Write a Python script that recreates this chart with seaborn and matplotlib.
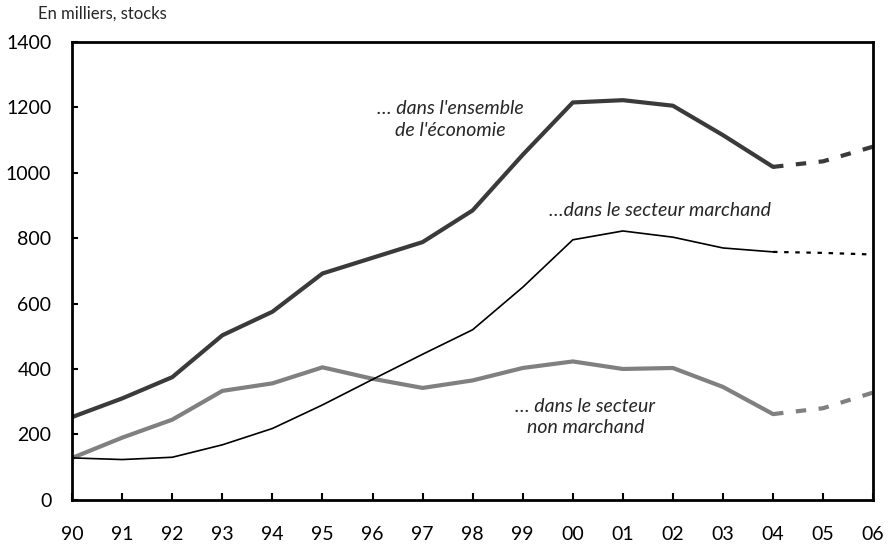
import numpy as np
import pandas as pd
import matplotlib
matplotlib.use('Agg')
import matplotlib.pyplot as plt
import seaborn as sns

# Years (observed 90-04, projection 04-06)
years = ['90', '91', '92', '93', '94', '95', '96', '97', '98', '99',
         '00', '01', '02', '03', '04', '05', '06']
obs_years = years[:15]
proj_years = years[14:]

# ... dans l'ensemble de l'economie
ensemble = [253, 310, 375, 503, 575, 692, 740, 788, 885, 1055,
            1215, 1222, 1205, 1115, 1018]
ensemble_proj = [1018, 1035, 1080]

# ... dans le secteur marchand
marchand = [128, 123, 130, 168, 218, 290, 368, 445, 520, 650,
            795, 822, 803, 770, 758]
marchand_proj = [758, 755, 750]

# ... dans le secteur non marchand
non_marchand = [128, 190, 245, 333, 356, 405, 370, 342, 365, 403,
                423, 400, 403, 345, 262]
non_marchand_proj = [262, 280, 328]

sns.set_style('white')
plt.rcParams['font.family'] = ['Lato', 'DejaVu Sans']

fig = plt.figure(figsize=(8.91, 5.45), dpi=100)
ax = fig.add_axes([0.081, 0.083, 0.899, 0.840])

pos = {y: i for i, y in enumerate(years)}
xo = [pos[y] for y in obs_years]
xp = [pos[y] for y in proj_years]

# observed lines
sns.lineplot(x=xo, y=non_marchand, ax=ax, color='#808080', linewidth=3.0)
sns.lineplot(x=xo, y=marchand, ax=ax, color='black', linewidth=1.2)
sns.lineplot(x=xo, y=ensemble, ax=ax, color='#3a3a3a', linewidth=3.0)

# projections
sns.lineplot(x=xp, y=non_marchand_proj, ax=ax, color='#808080', linewidth=3.0,
             linestyle=(0, (2.5, 3)))
sns.lineplot(x=xp, y=marchand_proj, ax=ax, color='black', linewidth=1.6,
             linestyle=(0, (2, 3)))
sns.lineplot(x=xp, y=ensemble_proj, ax=ax, color='#3a3a3a', linewidth=3.0,
             linestyle=(0, (2.5, 3)))

ax.set_xlim(0, len(years) - 1)
ax.set_ylim(0, 1400)
ax.set_xticks(range(len(years)))
ax.set_xticklabels(years)
ax.set_yticks(range(0, 1401, 200))

for s in ax.spines.values():
    s.set_visible(True)
    s.set_color('black')
    s.set_linewidth(2.0)

ax.tick_params(axis='both', direction='in', colors='black', labelsize=14)
ax.tick_params(axis='x', length=5, width=1.5, pad=19, bottom=True)
ax.tick_params(axis='y', length=4, width=1.5, pad=15, left=True)

# annotations
ax.text(7.55, 1163, "… dans l'ensemble\nde l'économie", style='italic',
        fontsize=14, ha='center', va='center', linespacing=1.35)
ax.text(11.75, 884, "…dans le secteur marchand", style='italic',
        fontsize=14, ha='center', va='center')
ax.text(10.25, 253, "… dans le secteur\nnon marchand", style='italic',
        fontsize=14, ha='center', va='center', linespacing=1.35)

fig.text(0.043, 0.975, 'En milliers, stocks', fontsize=12, ha='left', va='center')

fig.savefig('out.png', dpi=100)
